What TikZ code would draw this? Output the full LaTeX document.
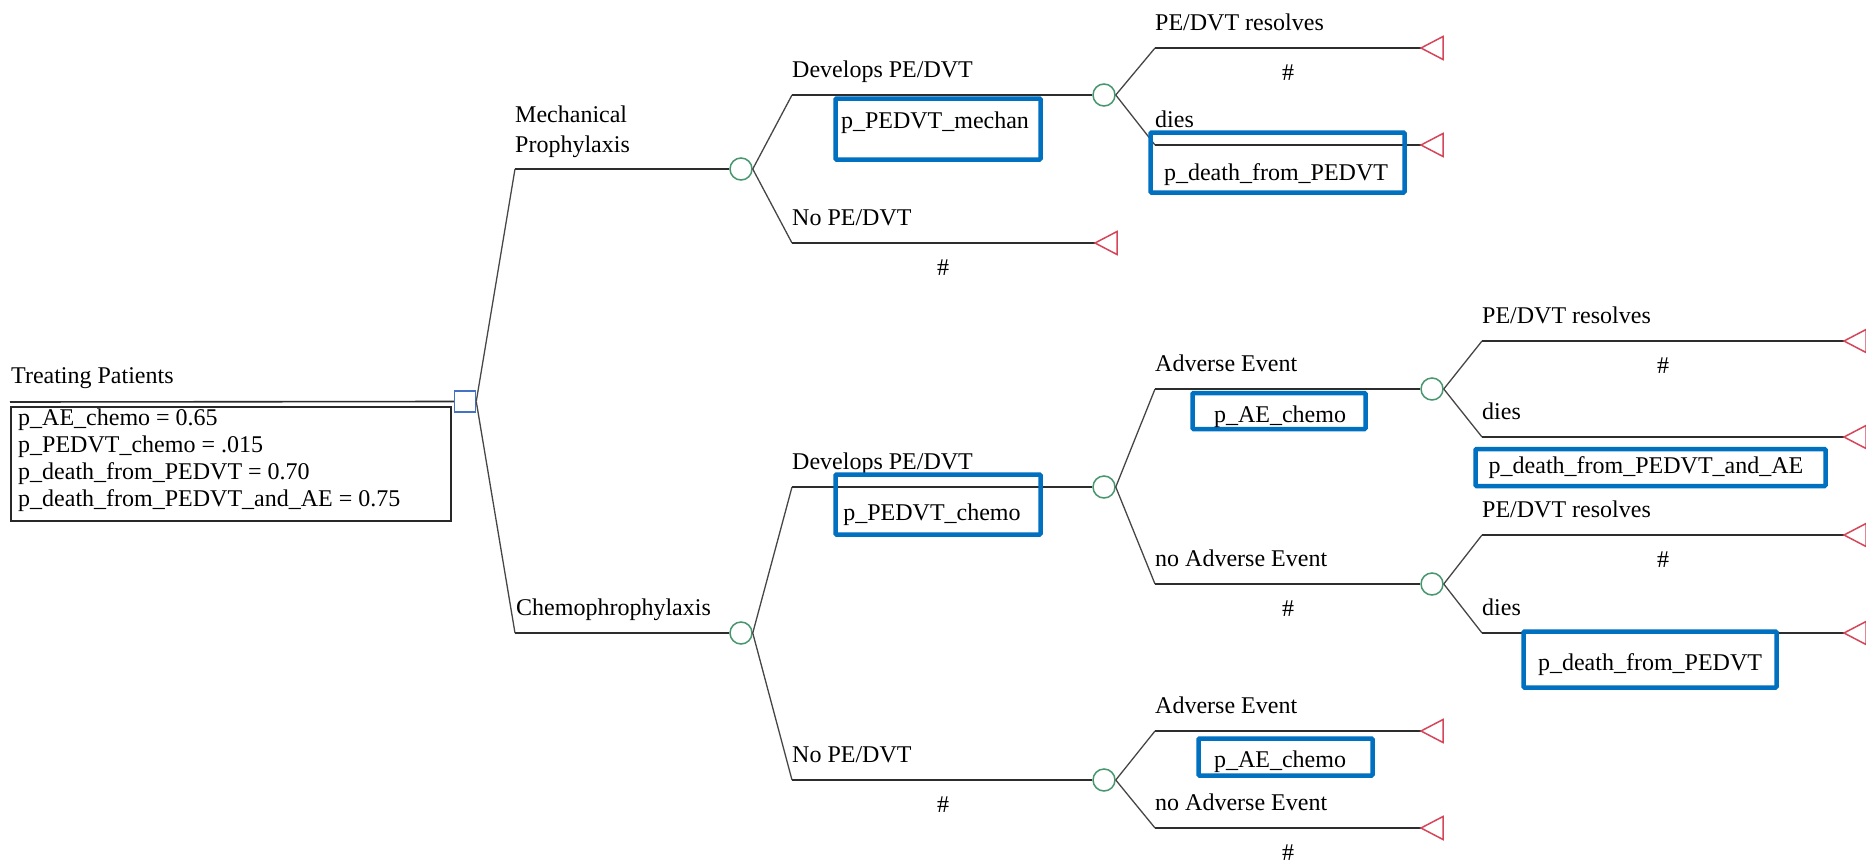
\documentclass[tikz,border=0pt]{standalone}
\usepackage{fontspec}
\setmainfont{Liberation Serif}
\definecolor{linegray}{RGB}{45,45,45}
\definecolor{diaggray}{RGB}{70,70,70}
\definecolor{chancegreen}{RGB}{70,150,110}
\definecolor{decblue}{RGB}{68,114,196}
\definecolor{termred}{RGB}{214,70,90}
\definecolor{boxblue}{RGB}{0,112,192}
\definecolor{infogray}{RGB}{40,40,40}
\begin{document}
\begin{tikzpicture}[x=1pt,y=-1pt,
  font=\fontsize{24}{28}\selectfont,
  branch/.style={draw=linegray, line width=1.6pt},
  diag/.style={draw=diaggray, line width=1.3pt},
  chance/.style={circle, draw=chancegreen, line width=1.5pt, minimum size=22pt, inner sep=0pt},
  decision/.style={rectangle, draw=decblue, line width=1.5pt, minimum size=21pt, inner sep=0pt},
  termtri/.style={draw=termred, line width=1.5pt, line join=miter},
  probbox/.style={rectangle, draw=boxblue, line width=4.5pt, inner sep=0pt, rounded corners=1pt},
  lbl/.style={anchor=base west, inner sep=0pt},
  ctr/.style={anchor=base, inner sep=0pt},
]
\fill[white] (0,0) rectangle (1866,865);
\useasboundingbox (0,0) rectangle (1866,865);

% ---------- root ----------
\node[decision] (root) at (465,401.5) {};
\coordinate (rootline) at (10,402);
\draw[branch] (rootline) -- (root.west);
\node[lbl] (title) at (11,383) {Treating Patients};
\node[rectangle, draw=infogray, line width=1.5pt, anchor=north west, minimum width=440pt, minimum height=114pt, inner sep=0pt] (info) at (10,406) {};
\node[lbl] (v1) at (18,425) {p\_AE\_chemo = 0.65};
\node[lbl] (v2) at (18,452) {p\_PEDVT\_chemo = .015};
\node[lbl] (v3) at (18,479) {p\_death\_from\_PEDVT = 0.70};
\node[lbl] (v4) at (18,506) {p\_death\_from\_PEDVT\_and\_AE = 0.75};

% ---------- Mechanical ----------
\coordinate (m0) at (515,169);
\node[chance] (mc) at (741,169) {};
\draw[diag] (root.east) -- (m0);
\draw[branch] (m0) -- (mc.west);
\node[lbl] (mlab1) at (515,122) {Mechanical};
\node[lbl] (mlab2) at (515,152) {Prophylaxis};

% Develops PE/DVT (mechanical)
\coordinate (md) at (792,95);
\node[chance] (mdc) at (1104,95) {};
\draw[diag] (mc.east) -- (md);
\draw[branch] (md) -- (mdc.west);
\node[lbl] (mdlab) at (792,77) {Develops PE/DVT};
\node[probbox, minimum width=205pt, minimum height=61pt] (b1) at (938,129) {};
\node[ctr] (b1t) at (935,128) {p\_PEDVT\_mechan};

% resolves
\coordinate (mdr) at (1155,48);
\coordinate (t1) at (1421,48);
\draw[diag] (mdc.east) -- (mdr);
\draw[branch] (mdr) -- (t1);
\draw[termtri] (t1) -- ++(22,-11.5) -- ++(0,23) -- cycle;
\node[lbl] (mdrlab) at (1155,30) {PE/DVT resolves};
\node[ctr] (h1) at (1288,80) {\#};
% dies
\coordinate (mdd) at (1155,145);
\coordinate (t2) at (1421,145);
\draw[diag] (mdc.east) -- (mdd);
\draw[branch] (mdd) -- (t2);
\draw[termtri] (t2) -- ++(22,-11.5) -- ++(0,23) -- cycle;
\node[lbl] (mddlab) at (1155,127) {dies};
\node[probbox, minimum width=254pt, minimum height=60pt] (b2) at (1277.5,162.5) {};
\node[ctr] (b2t) at (1276,180) {p\_death\_from\_PEDVT};

% No PE/DVT (mechanical)
\coordinate (mn) at (792,243);
\coordinate (t3) at (1095,243);
\draw[diag] (mc.east) -- (mn);
\draw[branch] (mn) -- (t3);
\draw[termtri] (t3) -- ++(22,-11.5) -- ++(0,23) -- cycle;
\node[lbl] (mnlab) at (792,225) {No PE/DVT};
\node[ctr] (h2) at (943,275) {\#};

% ---------- Chemo ----------
\coordinate (c0) at (515,633);
\node[chance] (cc) at (741,633) {};
\draw[diag] (root.east) -- (c0);
\draw[branch] (c0) -- (cc.west);
\node[lbl] (clab) at (516,615) {Chemophrophylaxis};

% Develops PE/DVT (chemo)
\coordinate (cd) at (792,487);
\node[chance] (cdc) at (1104,487) {};
\draw[diag] (cc.east) -- (cd);
\draw[branch] (cd) -- (cdc.west);
\node[lbl] (cdlab) at (792,469) {Develops PE/DVT};
\node[probbox, minimum width=205pt, minimum height=60pt] (b3) at (938,504.5) {};
\node[ctr] (b3t) at (932,520) {p\_PEDVT\_chemo};

% Adverse Event
\coordinate (ae) at (1155,389);
\node[chance] (aec) at (1432,389) {};
\draw[diag] (cdc.east) -- (ae);
\draw[branch] (ae) -- (aec.west);
\node[lbl] (aelab) at (1155,371) {Adverse Event};
\node[probbox, minimum width=173pt, minimum height=36pt] (b4) at (1279,411) {};
\node[ctr] (b4t) at (1280,422) {p\_AE\_chemo};

\coordinate (aer) at (1482,341);
\coordinate (t4) at (1844,341);
\draw[diag] (aec.east) -- (aer);
\draw[branch] (aer) -- (t4);
\draw[termtri] (t4) -- ++(22,-11.5) -- ++(0,23) -- cycle;
\node[lbl] (aerlab) at (1482,323) {PE/DVT resolves};
\node[ctr] (h3) at (1663,373) {\#};

\coordinate (aed) at (1482,437);
\coordinate (t5) at (1844,437);
\draw[diag] (aec.east) -- (aed);
\draw[branch] (aed) -- (t5);
\draw[termtri] (t5) -- ++(22,-11.5) -- ++(0,23) -- cycle;
\node[lbl] (aedlab) at (1482,419) {dies};
\node[probbox, minimum width=350pt, minimum height=37pt] (b5) at (1650.5,467.5) {};
\node[ctr] (b5t) at (1646,473) {p\_death\_from\_PEDVT\_and\_AE};

% no Adverse Event
\coordinate (nae) at (1155,584);
\node[chance] (naec) at (1432,584) {};
\draw[diag] (cdc.east) -- (nae);
\draw[branch] (nae) -- (naec.west);
\node[lbl] (naelab) at (1155,566) {no Adverse Event};
\node[ctr] (h4) at (1288,616) {\#};

\coordinate (naer) at (1482,535);
\coordinate (t6) at (1844,535);
\draw[diag] (naec.east) -- (naer);
\draw[branch] (naer) -- (t6);
\draw[termtri] (t6) -- ++(22,-11.5) -- ++(0,23) -- cycle;
\node[lbl] (naerlab) at (1482,517) {PE/DVT resolves};
\node[ctr] (h5) at (1663,567) {\#};

\coordinate (naed) at (1482,633);
\coordinate (t7) at (1844,633);
\draw[diag] (naec.east) -- (naed);
\draw[branch] (naed) -- (t7);
\draw[termtri] (t7) -- ++(22,-11.5) -- ++(0,23) -- cycle;
\node[lbl] (naedlab) at (1482,615) {dies};
\node[probbox, minimum width=253pt, minimum height=56pt] (b6) at (1650,659.5) {};
\node[ctr] (b6t) at (1650,670) {p\_death\_from\_PEDVT};

% No PE/DVT (chemo)
\coordinate (cn) at (792,780);
\node[chance] (cnc) at (1104,780) {};
\draw[diag] (cc.east) -- (cn);
\draw[branch] (cn) -- (cnc.west);
\node[lbl] (cnlab) at (792,762) {No PE/DVT};
\node[ctr] (h6) at (943,812) {\#};

\coordinate (cnae) at (1155,731);
\coordinate (t8) at (1421,731);
\draw[diag] (cnc.east) -- (cnae);
\draw[branch] (cnae) -- (t8);
\draw[termtri] (t8) -- ++(22,-11.5) -- ++(0,23) -- cycle;
\node[lbl] (cnaelab) at (1155,713) {Adverse Event};
\node[probbox, minimum width=174pt, minimum height=37pt] (b7) at (1285.5,757) {};
\node[ctr] (b7t) at (1280,767) {p\_AE\_chemo};

\coordinate (cnna) at (1155,828);
\coordinate (t9) at (1421,828);
\draw[diag] (cnc.east) -- (cnna);
\draw[branch] (cnna) -- (t9);
\draw[termtri] (t9) -- ++(22,-11.5) -- ++(0,23) -- cycle;
\node[lbl] (cnnalab) at (1155,810) {no Adverse Event};
\node[ctr] (h7) at (1288,860) {\#};
\end{tikzpicture}
\end{document}
